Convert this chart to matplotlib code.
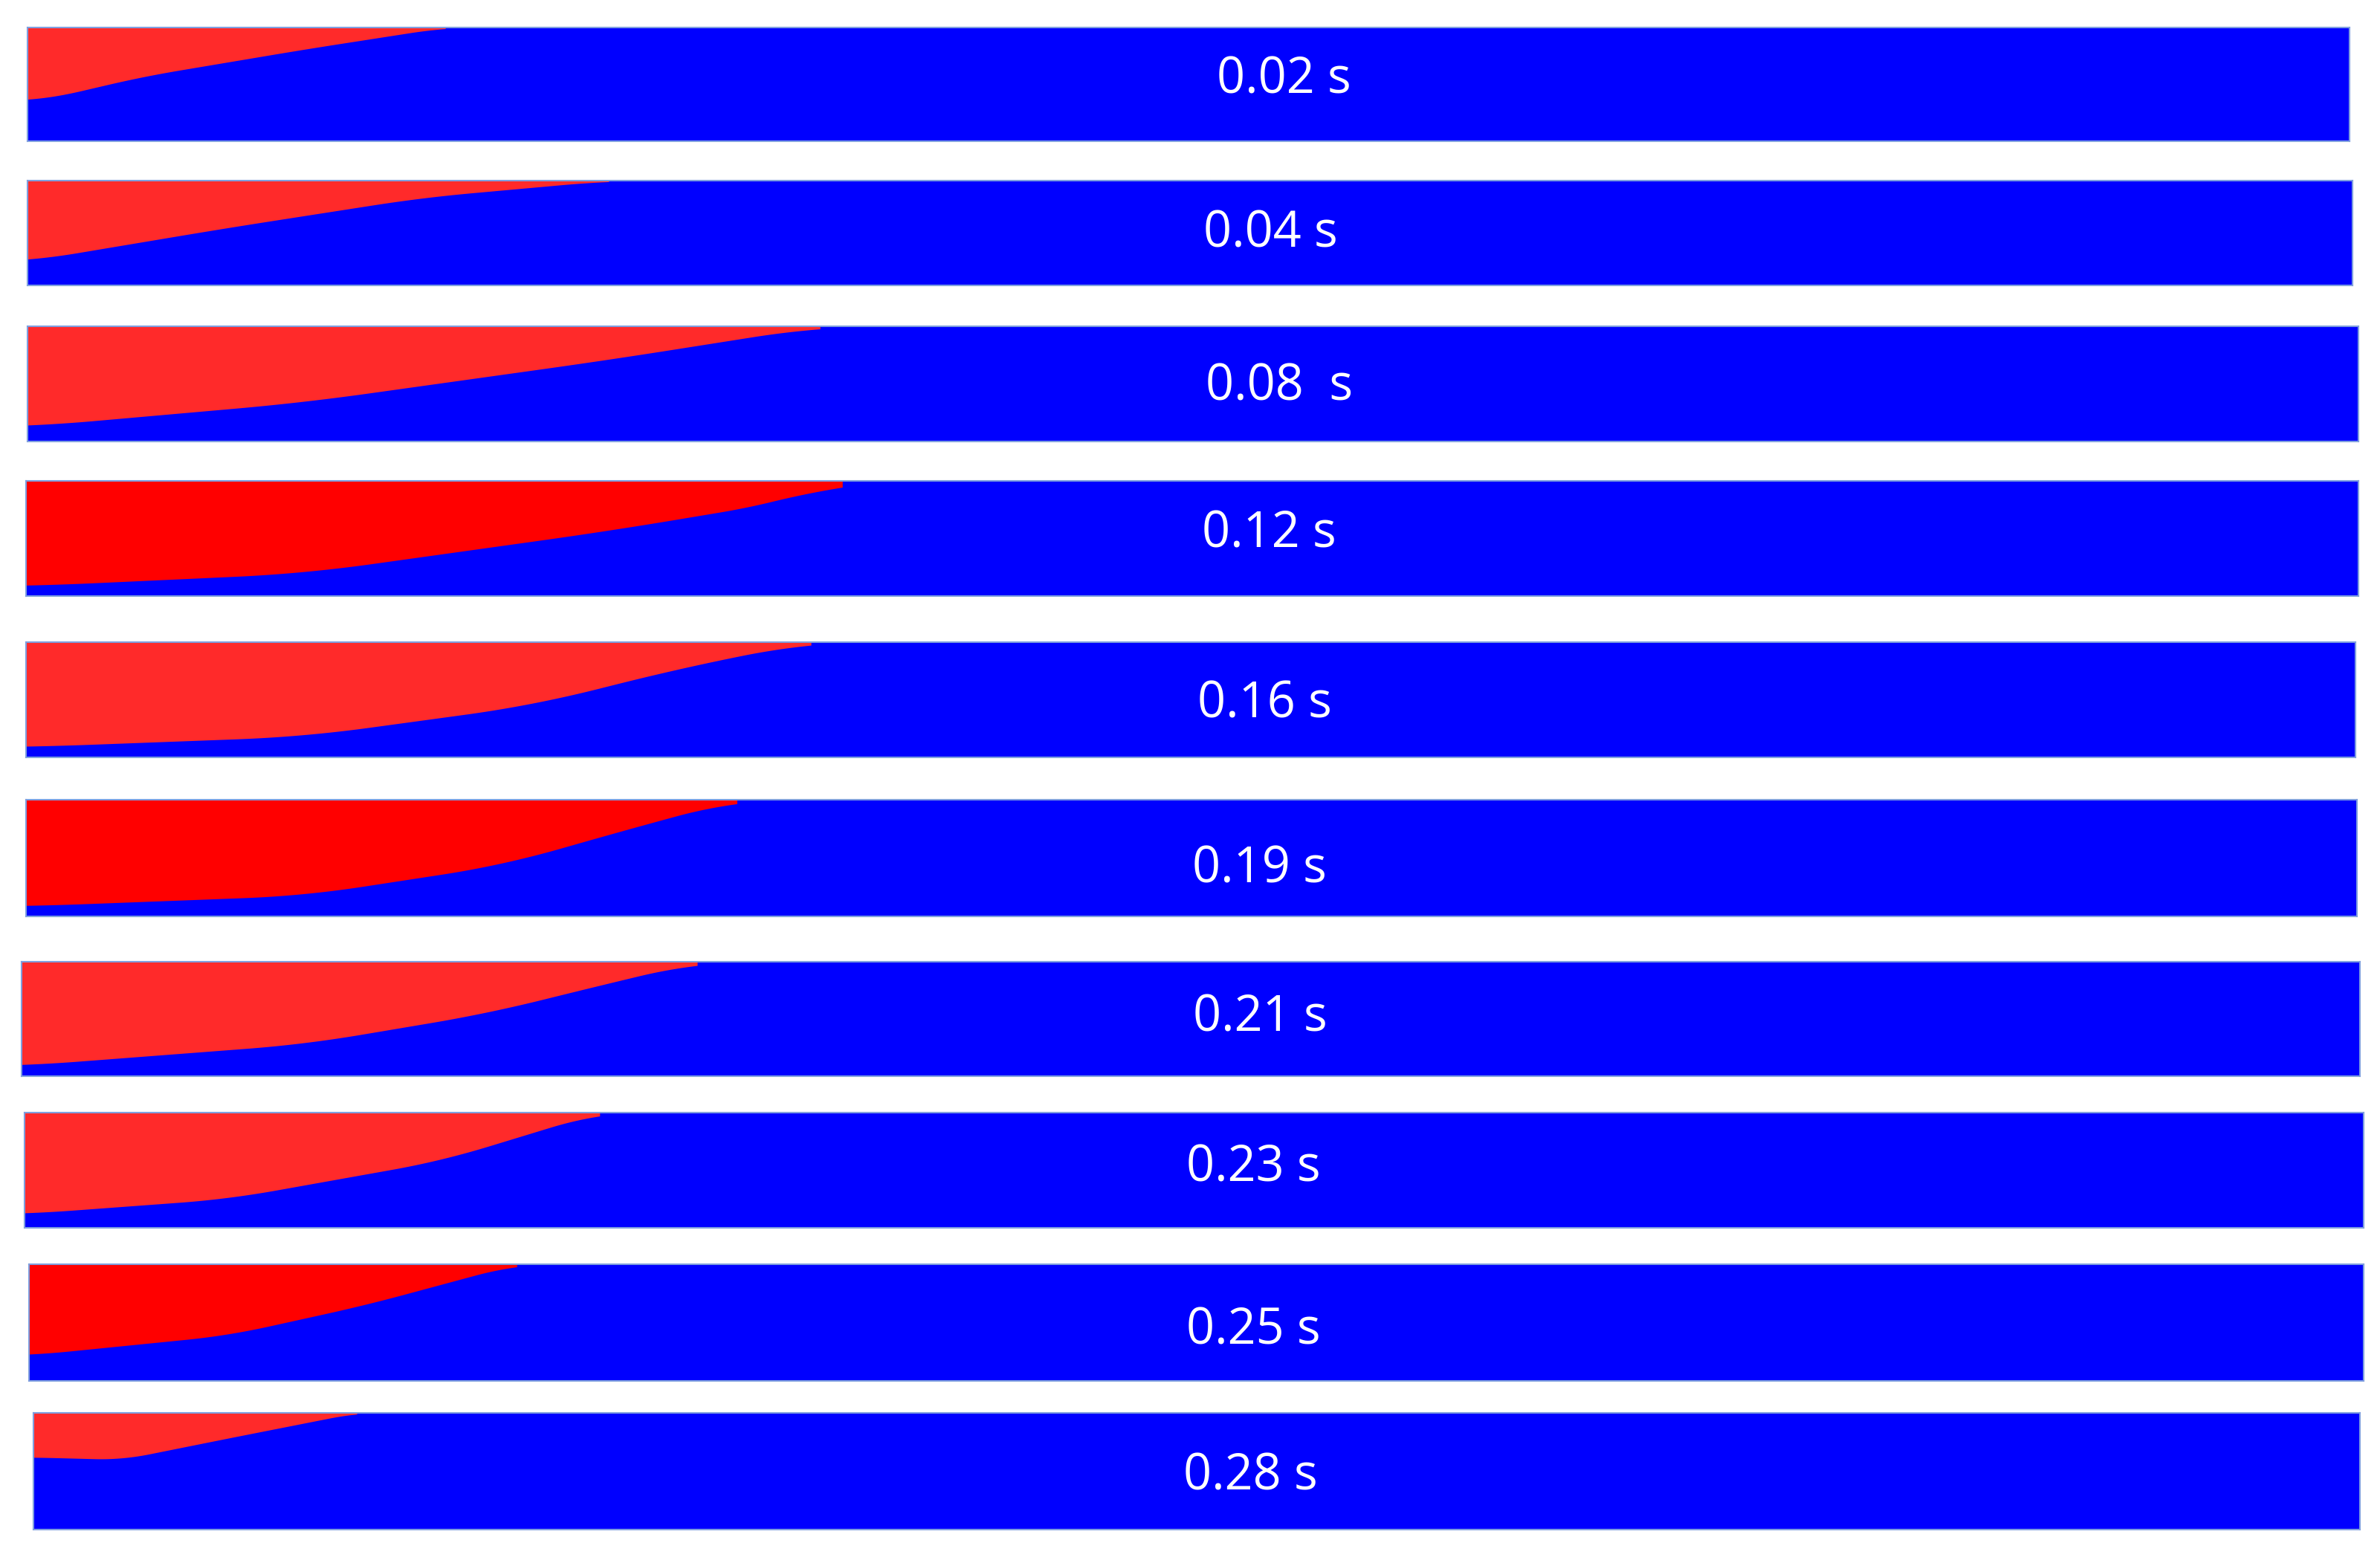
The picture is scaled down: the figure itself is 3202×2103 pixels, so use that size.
import numpy as np
import matplotlib.pyplot as plt

W, H = 1568.0, 1030.0  # reference layout units

labels = ['0.02 s', '0.04 s', '0.08  s', '0.12 s', '0.16 s', '0.19 s', '0.21 s', '0.23 s', '0.25 s', '0.28 s']
# strip boxes: left, right, top, bottom
lefts = [18, 18, 18, 17, 17, 17, 14, 16, 19, 22]
rights = [1548, 1550, 1554, 1554, 1552, 1553, 1555, 1557, 1557, 1555]
tops = [18, 119, 215, 317, 423, 527, 634, 733, 833, 931]
bottoms = [93, 188, 291, 393, 499, 604, 709, 809, 910, 1008]
label_x = [846, 837, 843, 836, 833, 830, 830, 826, 826, 824]
label_y = [53, 154, 255, 352, 464, 573, 671, 770, 877, 973]
# interface: x fraction along strip, height fraction from bottom
iface_x = [
    [0, 0.008, 0.05, 0.12, 0.18],
    [0, 0.086, 0.17, 0.25],
    [0, 0.118, 0.249, 0.34],
    [0, 0.119, 0.25, 0.327, 0.35],
    [0, 0.119, 0.217, 0.282, 0.337],
    [0, 0.119, 0.204, 0.262, 0.305],
    [0, 0.121, 0.199, 0.25, 0.289],
    [0, 0.087, 0.178, 0.246],
    [0, 0.085, 0.144, 0.209],
    [0, 0.038, 0.083, 0.139],
]
iface_h = [
    [0.36, 0.37, 0.57, 0.81, 1.0],
    [0.23, 0.55, 0.84, 1.0],
    [0.13, 0.34, 0.71, 1.0],
    [0.09, 0.2, 0.57, 0.83, 1.0],
    [0.09, 0.18, 0.45, 0.78, 1.0],
    [0.09, 0.18, 0.44, 0.77, 1.0],
    [0.09, 0.28, 0.55, 0.81, 1.0],
    [0.12, 0.25, 0.58, 1.0],
    [0.22, 0.39, 0.65, 1.0],
    [0.62, 0.6, 0.78, 1.0],
]
reds = ['#ff2a2a', '#ff2a2a', '#ff2a2a', '#ff0000', '#ff2a2a', '#ff0000', '#ff2a2a', '#ff2a2a', '#ff0000', '#ff2a2a']

fig = plt.figure(figsize=(32.02, 21.03), dpi=100)
for i in range(len(labels)):
    ax = fig.add_axes([lefts[i] / W, 1 - bottoms[i] / H,
                       (rights[i] - lefts[i]) / W, (bottoms[i] - tops[i]) / H])
    ax.set_facecolor('#0000ff')
    xs = np.linspace(0, iface_x[i][-1], 300)
    ys = np.interp(xs, iface_x[i], iface_h[i])
    # soften the corners a little
    k = 25
    pad = np.concatenate([np.full(k, ys[0]), ys, np.full(k, ys[-1])])
    ys = np.convolve(pad, np.ones(2 * k + 1) / (2 * k + 1), mode='same')[k:-k]
    ax.fill_between(xs, ys, 1.05, color=reds[i], linewidth=0)
    ax.set_xlim(0, 1)
    ax.set_ylim(0, 1)
    ax.set_xticks([])
    ax.set_yticks([])
    for s in ax.spines.values():
        s.set_color('#7f9fdf')
        s.set_linewidth(1.5)
    ax.text((label_x[i] - lefts[i]) / (rights[i] - lefts[i]),
            (bottoms[i] - label_y[i]) / (bottoms[i] - tops[i]), labels[i],
            color='white', fontsize=48, ha='center', va='center',
            family=['Open Sans', 'DejaVu Sans'], transform=ax.transAxes)

fig.savefig('out.png', dpi=100, facecolor='white')
